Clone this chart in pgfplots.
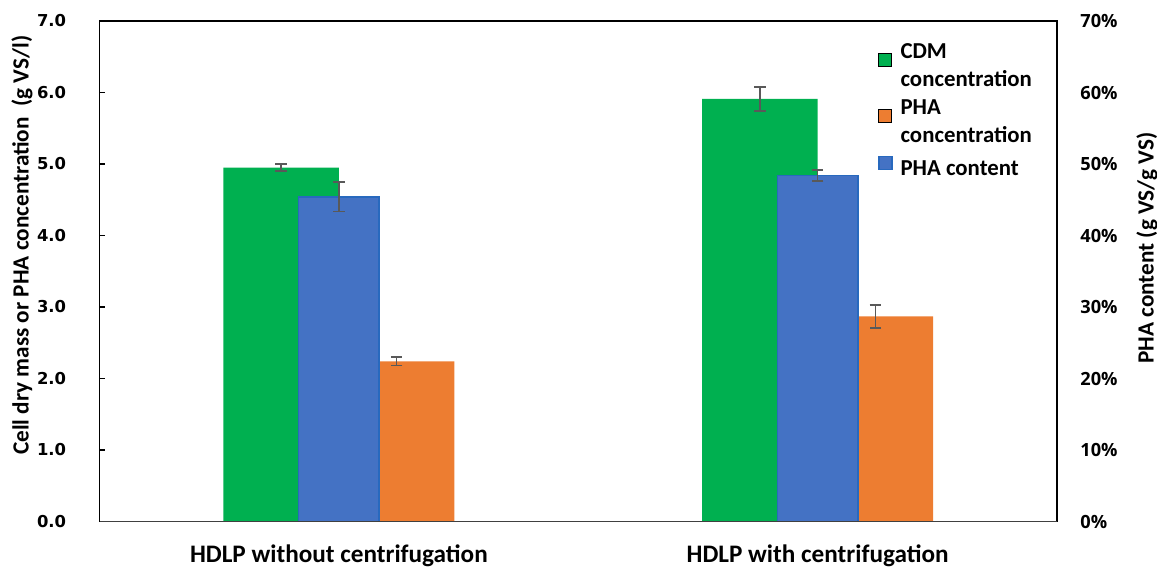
\documentclass[border=0pt]{standalone}
\usepackage{pgfplots}
\usepackage{pgfplotstable}
\pgfplotsset{compat=1.18}
\usepackage{fontspec}
\setmainfont{Carlito}
\newfontfamily\dejavu{DejaVu Sans}
\newfontfamily\opensans{Open Sans}

\definecolor{cdmgreen}{RGB}{0,176,80}
\definecolor{phaorange}{RGB}{237,125,49}
\definecolor{phablue}{RGB}{68,114,196}
\definecolor{phaedge}{RGB}{40,105,190}
\definecolor{errgray}{RGB}{89,89,89}
\definecolor{axgray}{RGB}{64,64,64}

% x: 0 = without centrifugation, 1 = with centrifugation
\pgfplotstableread{
x cdm cdmerr phac phacerr cont conterr
0 4.95 0.05 2.24 0.06 45.4 2.05
1 5.91 0.17 2.87 0.16 48.4 0.80
}\datatable

\pgfplotsset{
  common/.style={
    at={(49.75pt,22.75pt)}, anchor=south west,
    width=478.75pt, height=250.25pt, scale only axis,
    xmin=-0.5, xmax=1.5,
    ybar, bar width=57.75pt,
    legend image code/.code={\draw[##1,/tikz/.cd] (0pt,-0.5pt) rectangle (6.5pt,6pt);},
  },
  errs/.style={
    error bars/.cd, y dir=both, y explicit,
    error bar style={color=errgray, line width=0.8pt, solid},
    error mark=-,
    error mark options={rotate=90, color=errgray, draw=errgray, line width=0.8pt, mark size=2.9pt, solid},
  },
}

\begin{document}
\begin{tikzpicture}
\path[use as bounding box] (0,0) rectangle (578.5pt,283.5pt);

% left axis: concentrations
\begin{axis}[common,
  ymin=0, ymax=7,
  ytick={0,1,2,3,4,5,6,7},
  yticklabels={0.0,1.0,2.0,3.0,4.0,5.0,6.0,7.0},
  ytick pos=left, tick align=inside, major tick length=3pt,
  ytick style={black, line width=0.6pt},
  yticklabel style={font=\dejavu\bfseries\fontsize{8.2}{10}\selectfont, anchor=east, inner sep=0pt, xshift=-16.5pt},
  xtick={0,1},
  xticklabels={HDLP without centrifugation, HDLP with centrifugation},
  xtick style={draw=none},
  xticklabel style={font=\bfseries\fontsize{12.6}{14}\selectfont, anchor=north, inner sep=0pt, yshift=-11.2pt},
  axis line style={black, line width=0.7pt},
  ylabel={Cell dry mass or PHA concentration\ \ (g VS/l)},
  ylabel style={font=\bfseries\fontsize{11.6}{14}\selectfont, at={(axis description cs:-0.081,0.552)}, anchor=center},
]
\addplot[fill=cdmgreen, draw=none, bar shift=-28.875pt, errs]
  table[x=x, y=cdm, y error=cdmerr] {\datatable};
\addplot[fill=phaorange, draw=none, bar shift=28.875pt, errs]
  table[x=x, y=phac, y error=phacerr] {\datatable};
\end{axis}

% right axis: PHA content (%)
\begin{axis}[common,
  ymin=0, ymax=70,
  axis y line*=right, axis x line*=bottom,
  axis line style={-},
  x axis line style={axgray, line width=0.7pt},
  y axis line style={black, line width=0.7pt},
  xtick=\empty,
  ytick={0,10,20,30,40,50,60,70},
  yticklabels={0\%,10\%,20\%,30\%,40\%,50\%,60\%,70\%},
  ytick style={draw=none},
  yticklabel style={font=\opensans\bfseries\fontsize{9.1}{11}\selectfont, anchor=west, inner sep=0pt, xshift=11.5pt},
  ylabel={PHA content (g VS/g VS)},
  ylabel style={font=\bfseries\fontsize{11.6}{14}\selectfont, at={(axis description cs:1.094,0.546)}, anchor=center},
  axis on top,
  legend style={at={(axis description cs:0.813,0.955)}, anchor=north west,
    draw=none, fill=none, inner sep=0pt, outer sep=0pt,
    row sep=6.5pt, column sep=4pt,
    font=\bfseries\fontsize{11.4}{14}\selectfont,
    nodes={inner sep=0pt, outer sep=0pt, text depth={}}},
  legend cell align=left,
]
\addlegendimage{fill=cdmgreen, draw=none}
\addlegendentry{\vtop{\hbox{CDM}\hbox{concentration}}}
\addlegendimage{fill=phaorange, draw=none}
\addlegendentry{\vtop{\hbox{PHA}\hbox{concentration}}}
\addplot[fill=phablue, draw=phaedge, line width=0.8pt, bar width=40.25pt, bar shift=0pt, errs]
  table[x=x, y=cont, y error=conterr] {\datatable};
\addlegendentry{PHA content}
\end{axis}
\end{tikzpicture}
\end{document}
